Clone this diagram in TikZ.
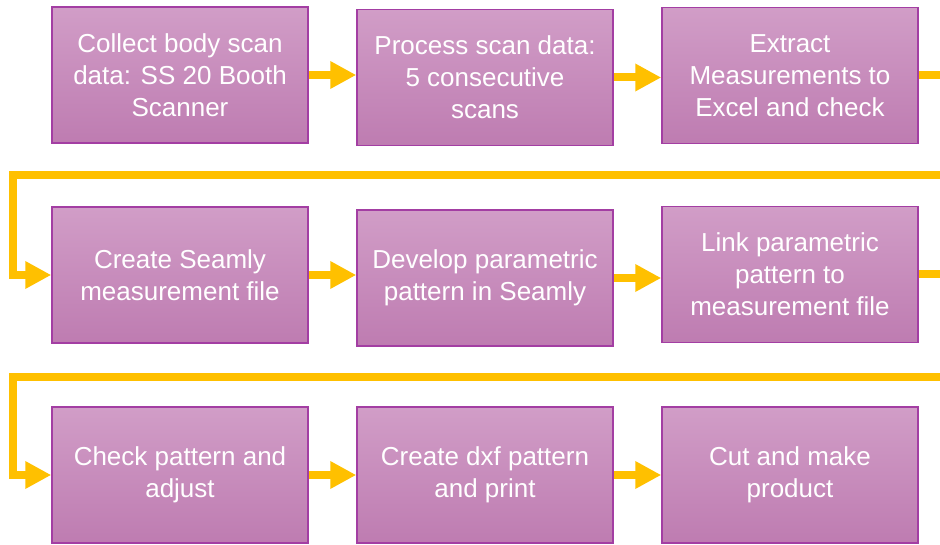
\documentclass[tikz,border=0pt]{standalone}
\usepackage{fontspec}
\setmainfont{Liberation Sans}
\usetikzlibrary{arrows.meta}
\definecolor{boxtop}{RGB}{209,157,199}
\definecolor{boxbot}{RGB}{190,124,177}
\definecolor{boxline}{RGB}{163,62,163}
\definecolor{flowgold}{RGB}{255,192,0}
\tikzset{
  stepbox/.style={draw=boxline, line width=1.5pt, top color=boxtop, bottom color=boxbot,
    minimum width=256pt, minimum height=136pt, inner sep=0pt, align=center, text=white,
    font=\fontsize{26}{32}\selectfont},
  flow/.style={draw=flowgold, line width=8pt, -{Triangle[length=26pt,width=26pt]}}
}
\begin{document}
\begin{tikzpicture}[x=1pt,y=-1pt]
\useasboundingbox (0,0) rectangle (940,545);

\node[stepbox] (scan)    at (180,75)    {Collect body scan\\data: SS 20 Booth\\Scanner};
\node[stepbox] (proc)    at (485,77.5)  {Process scan data:\\5 consecutive\\scans};
\node[stepbox] (extract) at (790,75.5)  {Extract\\Measurements to\\Excel and check};

\node[stepbox] (measfile) at (180,275)  {Create Seamly\\measurement file};
\node[stepbox] (develop)  at (485,278)  {Develop parametric\\pattern in Seamly};
\node[stepbox] (link)     at (790,274.5) {Link parametric\\pattern to\\measurement file};

\node[stepbox] (check)  at (180,475) {Check pattern and\\adjust};
\node[stepbox] (dxf)    at (485,475) {Create dxf pattern\\and print};
\node[stepbox] (cut)    at (790,475) {Cut and make\\product};

% return lines run off the right edge
\coordinate (r1) at (970,175.5);
\coordinate (l1) at (12.5,175.5);
\coordinate (r2) at (970,376.5);
\coordinate (l2) at (12.5,376.5);

\draw[flow] (scan.east) -- (scan.east -| proc.west);
\draw[flow] (proc.east) -- (proc.east -| extract.west);
\draw[flow] (extract.east) -| (r1) -- (l1) |- (measfile.west);

\draw[flow] (measfile.east) -- (measfile.east -| develop.west);
\draw[flow] (develop.east) -- (develop.east -| link.west);
\draw[flow] (link.east) -| (r2) -- (l2) |- (check.west);

\draw[flow] (check.east) -- (check.east -| dxf.west);
\draw[flow] (dxf.east) -- (dxf.east -| cut.west);

\end{tikzpicture}
\end{document}
